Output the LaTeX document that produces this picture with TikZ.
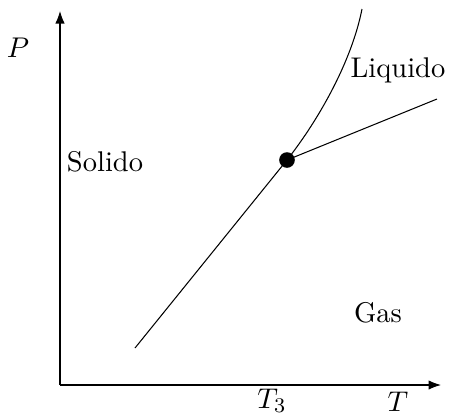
\documentclass[tikz,border=0pt]{standalone}
\usepackage{amsmath}
\usepackage{tikz}
\usetikzlibrary{arrows.meta,positioning}

\begin{document}
\begin{tikzpicture}[x=0.0135cm, y=-0.0135cm, >=Latex,
    phase/.style={font=\fontsize{10.95}{13}\selectfont},
    triple/.style={circle, fill=black, inner sep=0pt, minimum size=6pt}]
  \useasboundingbox (0,0) rectangle (449,416);

  % axes
  \coordinate (O) at (60,385);
  \coordinate (ytop) at (60,11);
  \coordinate (xend) at (441,385);
  \draw[->] (O) -- (ytop);
  \draw[->] (O) -- (xend);
  \node[phase] (Plab) at (18,48) {$P$};
  \node[phase] (Tlab) at (398,402) {$T$};
  \node[phase] (T3lab) at (272,401) {$T_3$};

  % triple point and coexistence curves
  \node[triple] (tp) at (287,160) {};
  \coordinate (sg) at (135,348);
  \coordinate (lg) at (437,99);
  \coordinate (sl) at (362,9);
  \draw (sg) -- (tp.center);
  \draw (tp.center) -- (lg);
  \draw (tp.center) .. controls (320,118) and (352,60) .. (sl);

  % phase labels
  \node[phase] (solid) at (105,162) {Solido};
  \node[phase] (liquid) at (398,70) {Liquido};
  \node[phase] (gas) at (378,313) {Gas};
\end{tikzpicture}
\end{document}
